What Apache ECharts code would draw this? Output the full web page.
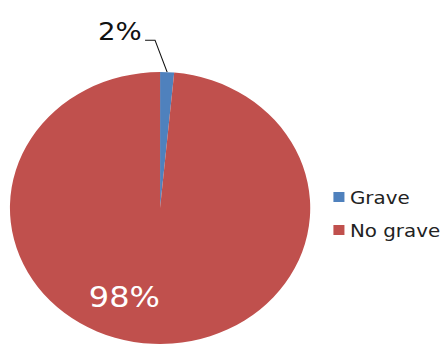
<!DOCTYPE html>
<html>
<head>
<meta charset="utf-8">
<script src="https://cdn.jsdelivr.net/npm/echarts@6/dist/echarts.min.js"></script>
<style>
  html, body { margin: 0; padding: 0; background: #fff; overflow: hidden; }
  /* source picture is stretched sideways, so the chart is too */
  #chart { width: 404px; height: 347px; transform: scaleX(1.104); transform-origin: 0 0; }
</style>
</head>
<body>
<div id="chart"></div>
<script>
// Grave vs no grave (share of cases)
const categories = ['Grave', 'No grave'];
const shares = [1.5, 98.5];
const colors = ['#4F81BD', '#C0504D'];

const chart = echarts.init(document.getElementById('chart'), null, { renderer: 'svg' });

const pieData = categories.map((name, i) => ({
  name: name,
  value: shares[i],
  itemStyle: { color: colors[i] },
  label: i === 0
    ? { position: 'outside', color: '#111', fontSize: 25 }
    : { position: 'inside', color: '#fff', fontSize: 29 }
}));

chart.setOption({
  animation: false,
  legend: {
    orient: 'vertical',
    left: 297,
    top: 183,
    itemWidth: 10,
    itemHeight: 10,
    itemGap: 15,
    icon: 'rect',
    textStyle: { color: '#222', fontSize: 18, fontFamily: 'DejaVu Sans' },
    data: categories
  },
  series: [{
    type: 'pie',
    center: [145, 208],
    radius: 136,
    startAngle: 90,
    clockwise: true,
    percentPrecision: 0,
    label: {
      formatter: '{d}%',
      fontFamily: 'DejaVu Sans'
    },
    labelLine: {
      show: true,
      lineStyle: { color: '#111', width: 1 }
    },
    labelLayout: function (p) {
      if (p.dataIndex === 1) return { dx: -29, dy: 18 };
      // Excel style leader: up and to the left of the thin slice
      const a = p.labelLinePoints[0];
      const b = [a[0] - 11, a[1] - 32];
      const c = [b[0] - 9, b[1]];
      return {
        x: c[0] - 3,
        y: c[1] - 9,
        align: 'right',
        verticalAlign: 'middle',
        labelLinePoints: [a, b, c]
      };
    },
    emphasis: { disabled: true },
    data: pieData
  }]
});
</script>
</body>
</html>
